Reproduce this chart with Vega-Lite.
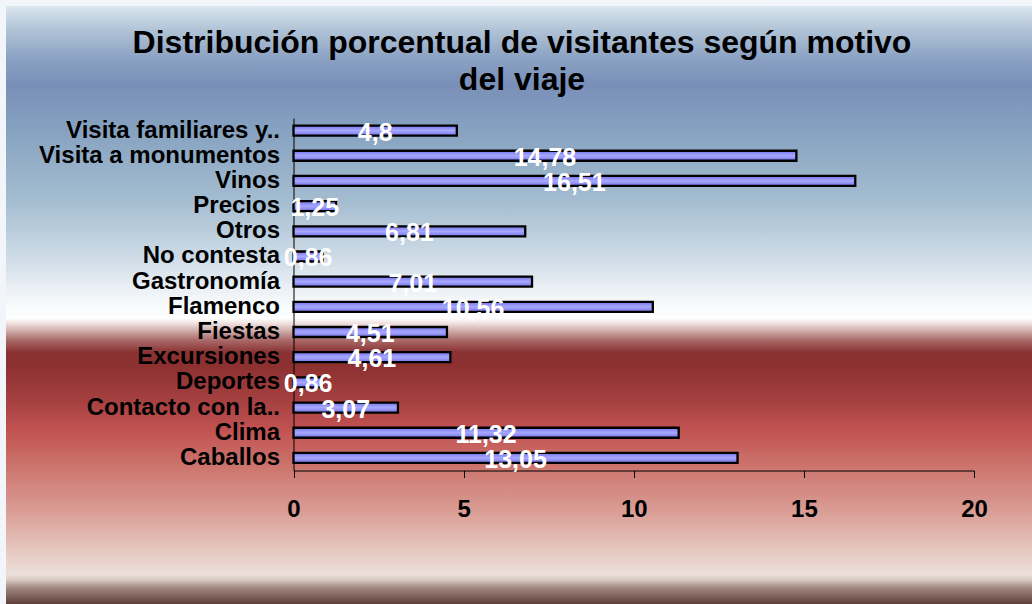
{
  "$schema": "https://vega.github.io/schema/vega-lite/v6.json",
  "width": 1026,
  "height": 598,
  "autosize": {"type": "none"},
  "padding": {"left": 6, "top": 6, "right": 0, "bottom": 0},
  "background": "#f2f6fb",
  "title": {
    "text": ["Distribución porcentual de visitantes según motivo", "del viaje"],
    "fontSize": 32,
    "font": "Liberation Sans",
    "fontWeight": "bold",
    "color": "#000000",
    "lineHeight": 37,
    "anchor": "middle",
    "frame": "group",
    "offset": -91,
    "dx": 3
  },
  "data": {
    "values": [
      {"motivo": "Visita familiares y..", "porcentaje": 4.8},
      {"motivo": "Visita a monumentos", "porcentaje": 14.78},
      {"motivo": "Vinos", "porcentaje": 16.51},
      {"motivo": "Precios", "porcentaje": 1.25},
      {"motivo": "Otros", "porcentaje": 6.81},
      {"motivo": "No contesta", "porcentaje": 0.86},
      {"motivo": "Gastronomía", "porcentaje": 7.01},
      {"motivo": "Flamenco", "porcentaje": 10.56},
      {"motivo": "Fiestas", "porcentaje": 4.51},
      {"motivo": "Excursiones", "porcentaje": 4.61},
      {"motivo": "Deportes", "porcentaje": 0.86},
      {"motivo": "Contacto con la..", "porcentaje": 3.07},
      {"motivo": "Clima", "porcentaje": 11.32},
      {"motivo": "Caballos", "porcentaje": 13.05}
    ]
  },
  "layer": [
    {
      "mark": {
        "type": "bar",
        "size": 10,
        "stroke": "#000000",
        "strokeWidth": 2.3,
        "color": {
          "gradient": "linear",
          "x1": 0, "y1": 0, "x2": 0, "y2": 1,
          "stops": [
            {"offset": 0, "color": "#7474ea"},
            {"offset": 0.5, "color": "#a8a8ff"},
            {"offset": 1, "color": "#7474ea"}
          ]
        }
      },
      "encoding": {
        "y": {
          "field": "motivo",
          "type": "nominal",
          "sort": null,
          "scale": {"range": [112, 464.5], "paddingInner": 0, "paddingOuter": 0},
          "axis": {
            "title": null,
            "offset": -287.5,
            "ticks": false,
            "labelPadding": 14,
            "labelFontSize": 24,
            "labelFontWeight": "bold",
            "labelColor": "#000000",
            "labelFont": "Liberation Sans",
            "labelLimit": 400,
            "domainColor": "#000000",
            "domainWidth": 1
          }
        },
        "x": {
          "field": "porcentaje",
          "type": "quantitative",
          "scale": {"domain": [0, 20], "range": [287.5, 968], "nice": false},
          "axis": {
            "title": null,
            "offset": -133.5,
            "values": [0, 5, 10, 15, 20],
            "grid": false,
            "tickSize": 7,
            "tickColor": "#000000",
            "domainColor": "#000000",
            "labelFlush": false,
            "labelPadding": 20,
            "labelFontSize": 24,
            "labelFontWeight": "bold",
            "labelColor": "#000000",
            "labelFont": "Liberation Sans"
          }
        }
      }
    },
    {
      "mark": {
        "type": "text",
        "color": "#ffffff",
        "font": "Liberation Sans",
        "fontSize": 25,
        "fontWeight": "bold",
        "baseline": "middle",
        "dy": 2
      },
      "encoding": {
        "y": {"field": "motivo", "type": "nominal", "sort": null},
        "x": {
          "field": "porcentaje",
          "type": "quantitative",
          "scale": {"domain": [0, 40], "range": [287.5, 968], "nice": false},
          "axis": null
        },
        "text": {"field": "porcentaje", "type": "quantitative", "format": ".2~f"}
      }
    }
  ],
  "resolve": {"scale": {"x": "independent"}},
  "config": {
    "font": "Liberation Sans",
    "locale": {
      "number": {"decimal": ",", "thousands": ".", "grouping": [3], "currency": ["", " €"]}
    },
    "view": {
      "stroke": null,
      "fill": {
        "gradient": "linear",
        "x1": 0, "y1": 0, "x2": 0, "y2": 1,
        "stops": [
          {"offset": 0, "color": "#dbe6f0"},
          {"offset": 0.04, "color": "#b0c3d6"},
          {"offset": 0.09, "color": "#8aa0c2"},
          {"offset": 0.132, "color": "#7a8fb8"},
          {"offset": 0.207, "color": "#86a2c0"},
          {"offset": 0.324, "color": "#a4bcd0"},
          {"offset": 0.425, "color": "#d0dde8"},
          {"offset": 0.49, "color": "#f4f7fa"},
          {"offset": 0.522, "color": "#ffffff"},
          {"offset": 0.53, "color": "#f0e4e2"},
          {"offset": 0.559, "color": "#a86a68"},
          {"offset": 0.579, "color": "#8a3232"},
          {"offset": 0.6, "color": "#8c3030"},
          {"offset": 0.659, "color": "#a54040"},
          {"offset": 0.709, "color": "#c25252"},
          {"offset": 0.776, "color": "#cd7870"},
          {"offset": 0.843, "color": "#d99c94"},
          {"offset": 0.91, "color": "#e6c8c0"},
          {"offset": 0.951, "color": "#ece0da"},
          {"offset": 0.96, "color": "#d8c8c0"},
          {"offset": 0.973, "color": "#a08880"},
          {"offset": 1, "color": "#5e3e38"}
        ]
      }
    }
  }
}
